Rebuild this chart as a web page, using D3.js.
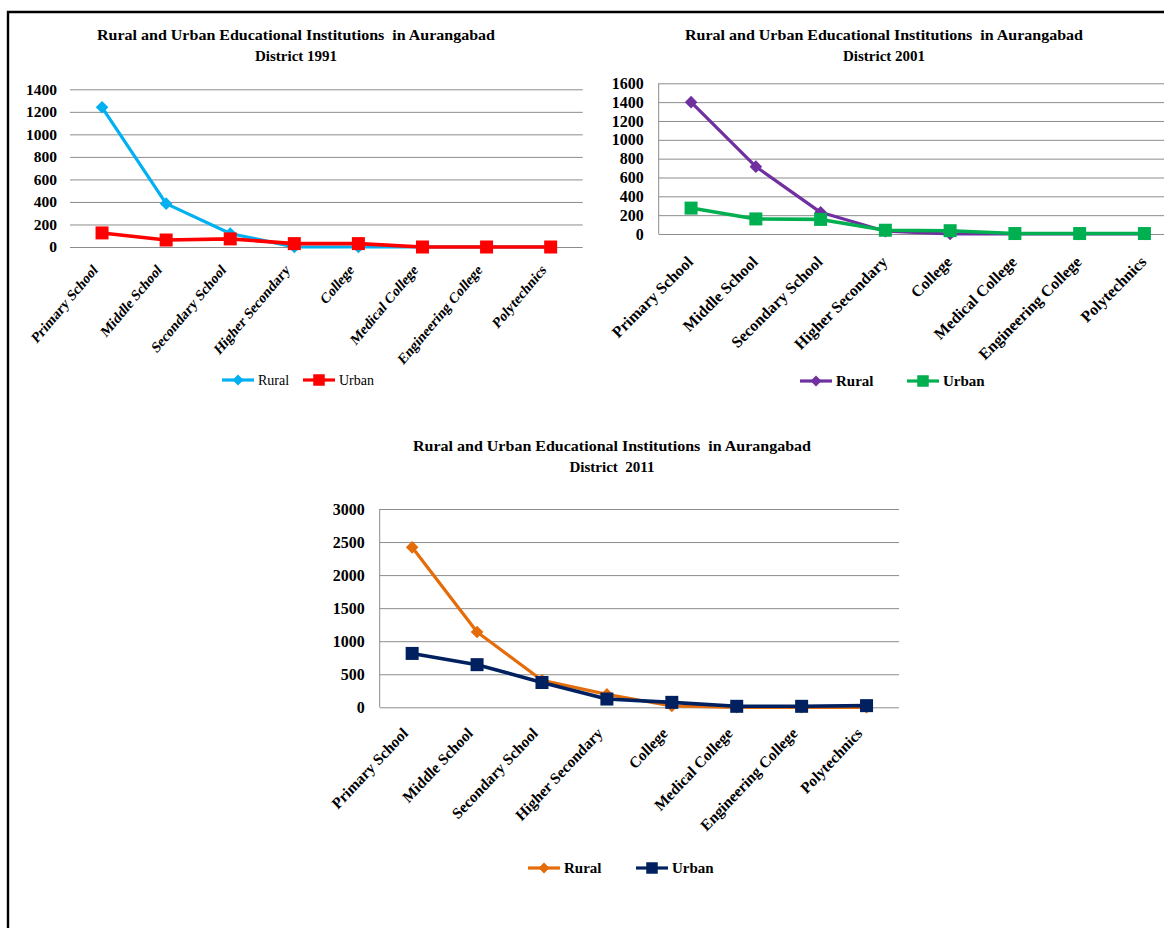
<!DOCTYPE html>
<html>
<head>
<meta charset="utf-8">
<script src="https://cdn.jsdelivr.net/npm/d3@7"></script>
<style>
  html, body { margin: 0; padding: 0; background: #fff; }
  svg { display: block; }
  text { font-family: "Liberation Serif", "Times New Roman", serif; fill: #000; }
</style>
</head>
<body>
<svg id="page" width="1164" height="928"></svg>
<script>
// Institution types shown on every chart
const categories = [
  "Primary School", "Middle School", "Secondary School", "Higher Secondary",
  "College", "Medical College", "Engineering College", "Polytechnics"
];

// 1991 counts
const rural1991 = [1240, 385, 120, 0, 0, 0, 0, 0];
const urban1991 = [125, 62, 72, 30, 30, 0, 0, 0];
const ticks1991 = [0, 200, 400, 600, 800, 1000, 1200, 1400];

// 2001 counts
const rural2001 = [1400, 715, 230, 30, 0, 0, 0, 0];
const urban2001 = [275, 160, 155, 40, 35, 5, 5, 5];
const ticks2001 = [0, 200, 400, 600, 800, 1000, 1200, 1400, 1600];

// 2011 counts
const rural2011 = [2420, 1140, 410, 195, 20, 0, 0, 0];
const urban2011 = [815, 645, 375, 125, 75, 15, 15, 25];
const ticks2011 = [0, 500, 1000, 1500, 2000, 2500, 3000];

const seriesNames = ["Rural", "Urban"];
const titleLine1 = "Rural and Urban Educational Institutions  in Aurangabad";

const svg = d3.select("#page");

// page-sized clip so the right-hand chart is cut at the page edge
svg.append("clipPath").attr("id", "pageClip")
  .append("rect").attr("x", 0).attr("y", 0).attr("width", 1164).attr("height", 928);

// outer frame (open on the right and bottom)
svg.append("path")
  .attr("d", "M8,930 L8,12 L1166,12")
  .attr("fill", "none")
  .attr("stroke", "#000")
  .attr("stroke-width", 2.4);

function diamond(g, r, color) {
  g.append("path")
    .attr("d", `M0,${-r} L${r},0 L0,${r} L${-r},0 Z`)
    .attr("fill", color);
}
function square(g, s, color) {
  g.append("rect")
    .attr("x", -s / 2).attr("y", -s / 2)
    .attr("width", s).attr("height", s)
    .attr("fill", color);
}

function drawChart(cfg) {
  const g = svg.append("g");

  // title
  const t = g.append("text")
    .attr("text-anchor", "middle")
    .attr("font-weight", "bold")
    .attr("font-size", 15)
    .style("white-space", "pre");
  t.append("tspan").attr("x", cfg.titleX).attr("y", cfg.titleY)
    .attr("textLength", 398).attr("lengthAdjust", "spacingAndGlyphs")
    .text(titleLine1);
  t.append("tspan").attr("x", cfg.titleX).attr("y", cfg.titleY + 21)
    .text(cfg.title2);

  const x = d3.scaleBand().domain(categories).range([cfg.left, cfg.right]).padding(0);
  const y = d3.scaleLinear().domain([0, d3.max(cfg.ticks)]).range([cfg.bottom, cfg.top]);
  const cx = c => x(c) + x.bandwidth() / 2;

  const clipped = g.append("g").attr("clip-path", "url(#pageClip)");

  // gridlines + value labels
  const yAxis = d3.axisLeft(y)
    .tickValues(cfg.ticks)
    .tickSize(-(cfg.right - cfg.left))
    .tickPadding(cfg.labelPad)
    .tickFormat(d3.format("d"));
  const ya = clipped.append("g")
    .attr("transform", `translate(${cfg.left},0)`)
    .call(yAxis);
  ya.select(".domain").remove();
  ya.selectAll(".tick line").attr("stroke", "#8c8c8c").attr("stroke-width", 1);
  ya.selectAll(".tick text")
    .attr("font-family", "'Liberation Serif', 'Times New Roman', serif")
    .attr("font-weight", "bold").attr("font-size", cfg.tickSize).attr("fill", "#000");

  if (cfg.vAxis) {
    g.append("line")
      .attr("x1", cfg.left).attr("x2", cfg.left)
      .attr("y1", y(d3.max(cfg.ticks))).attr("y2", cfg.bottom)
      .attr("stroke", "#8c8c8c").attr("stroke-width", 1);
  }

  // category labels, slanted
  g.append("g").selectAll("text").data(categories).join("text")
    .attr("transform", c => `translate(${cx(c) + cfg.catDx},${cfg.bottom + cfg.catDy}) scale(${cfg.catScale},1) rotate(-45)`)
    .attr("text-anchor", "end")
    .attr("font-weight", "bold")
    .attr("font-size", cfg.catSize)
    .attr("dy", "0.35em")
    .text(c => c);

  const line = d3.line().x((d, i) => cx(categories[i])).y(d => y(d));

  const plot = clipped.append("g");
  // rural
  plot.append("path").datum(cfg.rural)
    .attr("d", line).attr("fill", "none")
    .attr("stroke", cfg.colors[0]).attr("stroke-width", 3.2)
    .attr("stroke-linejoin", "round");
  cfg.rural.forEach((v, i) => {
    diamond(plot.append("g").attr("transform", `translate(${cx(categories[i])},${y(v)})`), 6.3, cfg.colors[0]);
  });
  // urban
  plot.append("path").datum(cfg.urban)
    .attr("d", line).attr("fill", "none")
    .attr("stroke", cfg.colors[1]).attr("stroke-width", 3.6)
    .attr("stroke-linejoin", "round");
  cfg.urban.forEach((v, i) => {
    square(plot.append("g").attr("transform", `translate(${cx(categories[i])},${y(v)})`), 13, cfg.colors[1]);
  });

  // legend
  const lg = g.append("g").attr("transform", `translate(0,${cfg.legendY})`);
  cfg.legendX.forEach((lx, i) => {
    const item = lg.append("g").attr("transform", `translate(${lx},0)`);
    item.append("line").attr("x1", 0).attr("x2", 32).attr("y1", 0).attr("y2", 0)
      .attr("stroke", cfg.colors[i]).attr("stroke-width", 3.2);
    const m = item.append("g").attr("transform", "translate(16,0)");
    if (i === 0) diamond(m, 5.5, cfg.colors[i]); else square(m, 11.5, cfg.colors[i]);
    item.append("text").attr("x", 36).attr("y", 0).attr("dy", "0.35em")
      .attr("font-size", cfg.legendSize)
      .attr("font-weight", cfg.legendBold ? "bold" : "normal")
      .text(seriesNames[i]);
  });
}

drawChart({
  id: 1991, title2: "District 1991", titleX: 296, titleY: 40,
  ticks: ticks1991, rural: rural1991, urban: urban1991,
  left: 70, right: 582.7, top: 89.3, bottom: 247, labelPad: 13, vAxis: false, tickSize: 15.5,
  catDx: -7, catDy: 20, catSize: 15.5, catScale: 0.84,
  colors: ["#00B0F0", "#FF0000"],
  legendY: 380, legendX: [222, 303], legendSize: 14, legendBold: false
});

drawChart({
  id: 2001, title2: "District 2001", titleX: 884, titleY: 40,
  ticks: ticks2001, rural: rural2001, urban: urban2001,
  left: 658.7, right: 1176.8, top: 83.3, bottom: 234, labelPad: 15, vAxis: true, tickSize: 16,
  catDx: -1, catDy: 25, catSize: 16, catScale: 1,
  colors: ["#7030A0", "#00B050"],
  legendY: 381, legendX: [800, 907], legendSize: 15, legendBold: true
});

drawChart({
  id: 2011, title2: "District  2011", titleX: 612, titleY: 451,
  ticks: ticks2011, rural: rural2011, urban: urban2011,
  left: 379.7, right: 899, top: 509, bottom: 707.3, labelPad: 15, vAxis: true, tickSize: 16,
  catDx: -7, catDy: 23, catSize: 16, catScale: 0.94,
  colors: ["#E46C0A", "#002060"],
  legendY: 868, legendX: [528, 636], legendSize: 15, legendBold: true
});
</script>
</body>
</html>
